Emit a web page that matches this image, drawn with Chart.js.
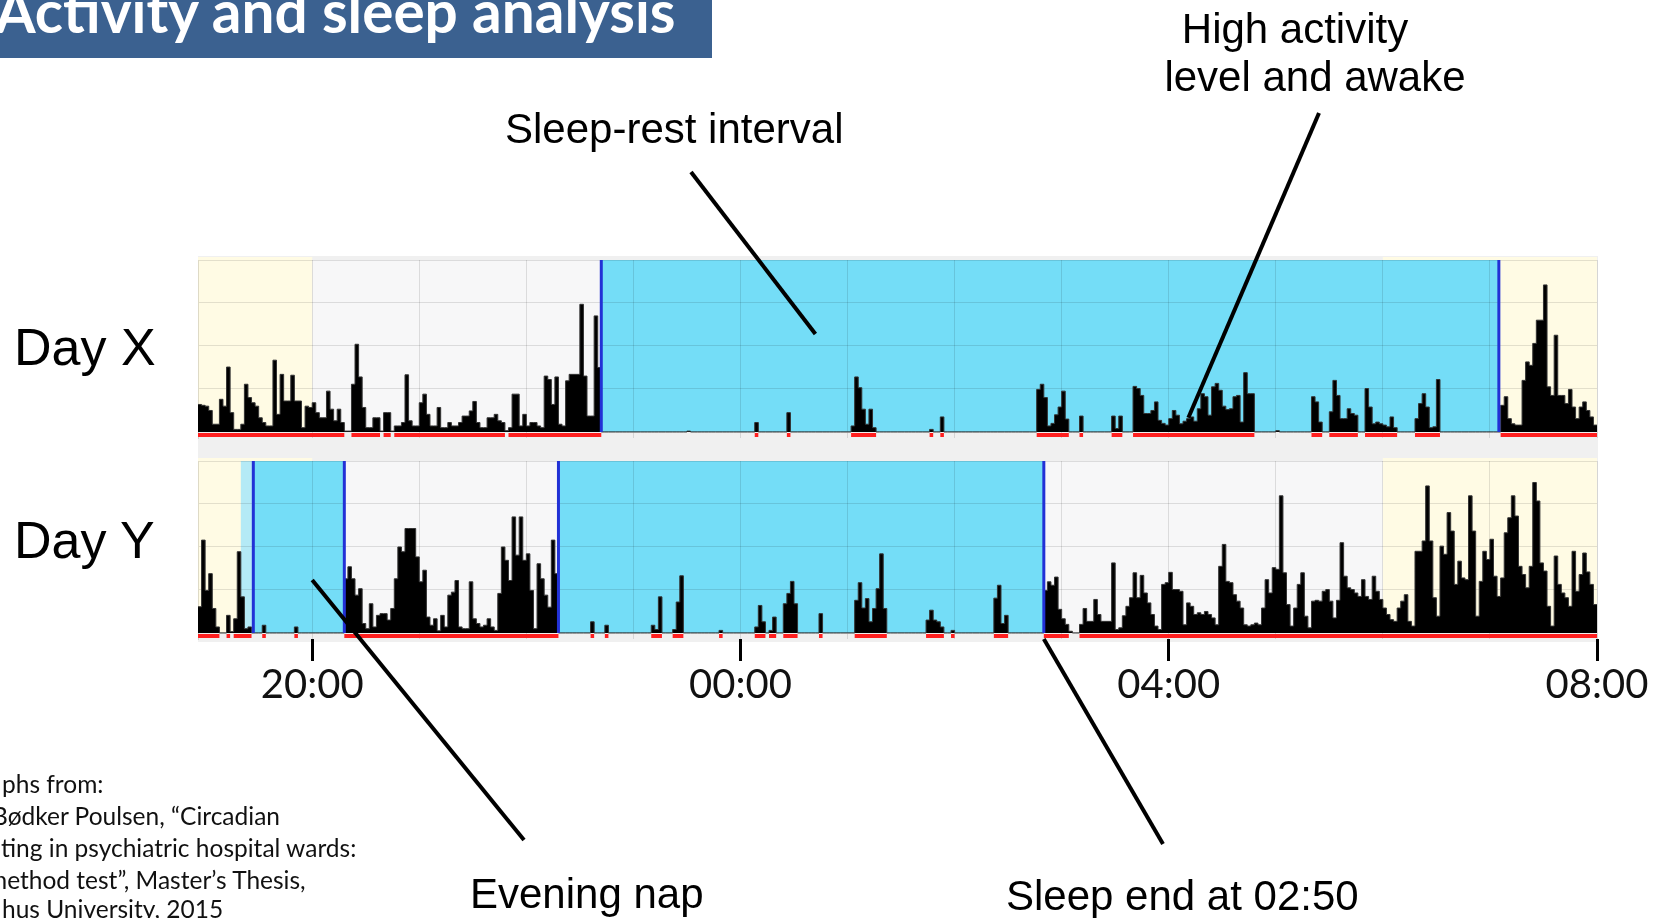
<!DOCTYPE html>
<html>
<head>
<meta charset="utf-8">
<title>Activity and sleep analysis</title>
<script src="https://cdn.jsdelivr.net/npm/chart.js@4.4.1/dist/chart.umd.min.js"></script>
<style>
  html, body { margin: 0; padding: 0; background: #ffffff; }
  body { position: relative; width: 1661px; height: 918px; overflow: hidden; }
  #titleBar { position: absolute; left: 0; top: 0; width: 712px; height: 58px; background: #3b6190; }
  #panelBg { position: absolute; left: 198px; top: 256px; width: 1400px; height: 386px; background: #f0f0f0; }
  .chartBox { position: absolute; }
  #boxX { left: 190px; top: 240px; }
  #boxY { left: 190px; top: 440px; }
  #overlay { position: absolute; left: 0; top: 0; pointer-events: none; }
</style>
</head>
<body>
<div id="titleBar"></div>
<div id="panelBg"></div>
<div class="chartBox" id="boxX"><canvas id="chartX" width="1471" height="200"></canvas></div>
<div class="chartBox" id="boxY"><canvas id="chartY" width="1471" height="270"></canvas></div>
<svg id="overlay" width="1661" height="918" xmlns="http://www.w3.org/2000/svg"></svg>

<script>
// Actigraphy recording: 2-minute epochs starting at 18:56, ending at 08:00 next morning.
const epochStart = '18:56';
const epochMinutes = 2;
const axisEnd = '08:00';

// Activity counts per epoch, one row per hour of recording.
const dayXCounts = [
  64,62,60,50,18,18,76,60,151,45, 6,6,18,111,80,68,60,33,22,14, 14,167,41,134,72,72,132,72,72,10,
  60,57,68,45,33,33,95,53,26,53, 22,2,2,111,204,128,57,10,10,33, 33,2,45,45,2,14,14,22,133,26,
  14,14,68,88,41,14,14,57,10,10, 22,14,14,22,37,37,49,71,22,10, 10,33,33,41,26,22,3,10,88,88,
  14,41,14,22,22,14,10,130,122,64, 128,18,14,119,134,134,134,297,130,37, 37,270,150,0,0,0,0,0,0,0,
  0,0,0,0,0,0,0,0,0,0, 0,0,0,0,0,0,0,2,0,0, 0,0,0,0,0,0,0,0,0,0,
  0,0,0,0,0,0,22,0,0,0, 0,0,0,0,0,45,0,0,0,0, 0,0,0,0,0,0,0,0,0,0,
  0,0,0,14,128,103,53,18,53,10, 0,0,0,0,0,0,0,0,0,0, 0,0,0,0,0,6,0,0,35,0,
  0,0,0,0,0,0,0,0,0,0, 0,0,0,0,0,0,0,0,0,0, 0,0,0,0,0,99,111,80,14,20,
  40,58,95,30,0,0,0,37,0,0, 0,0,0,0,0,0,37,8,37,0, 0,0,106,101,85,43,43,50,70,27,
  20,16,31,50,39,19,25,31,35,25, 54,89,82,39,105,113,97,60,52,54, 82,85,23,138,89,89,0,0,0,0,
  0,0,3,0,0,0,0,0,0,0, 0,0,82,70,23,0,0,47,120,85, 31,31,54,43,39,0,0,101,58,19,
  23,19,16,12,35,10,0,0,0,0, 0,31,66,89,58,10,12,122,0,0, 0,0,0,0,0,0,0,0,0,0,
  0,0,0,0,0,62,82,31,19,16, 16,120,163,155,206,260,260,342,105,85, 225,85,85,66,99,58,31,58,70,50,
  35,16
];

const dayYCounts = [
  61,216,99,138,57,14,0,0,41,3, 33,189,84,10,14,0,0,0,18,0, 0,0,0,0,0,0,0,14,0,0,
  0,0,0,0,0,0,0,0,0,0, 0,126,154,126,88,103,22,10,68,14, 41,45,45,30,57,126,200,189,243,243,
  243,177,119,146,37,18,33,5,41,14, 88,95,122,14,10,10,119,33,22,14, 18,33,14,6,92,200,169,122,270,181,
  270,169,184,99,10,161,126,88,60,216, 138,0,0,0,0,0,0,0,0,0, 26,0,0,0,18,0,0,0,0,0,
  0,0,0,0,0,0,0,18,8,84, 0,0,0,8,72,133,0,0,0,0, 0,0,0,0,0,0,6,0,0,0,
  0,0,0,0,0,0,14,64,26,0, 6,37,0,0,68,92,120,68,0,0, 0,0,0,0,45,0,0,0,0,0,
  0,0,0,0,76,117,58,80,26,57, 103,184,57,0,0,0,0,0,0,0, 0,0,0,0,30,53,30,26,14,0,
  0,6,0,0,0,0,0,0,0,0, 0,0,0,81,111,22,41,0,0,0, 0,0,0,0,0,0,0,99,119,111,
  130,55,33,20,4,0,0,20,57,27, 27,78,43,27,27,27,163,8,12,40, 62,82,140,82,134,93,70,43,16,8,
  113,117,141,101,101,97,19,70,62,43, 47,43,50,43,35,19,155,206,120,117, 89,74,58,19,16,19,23,19,58,124,
  93,152,148,319,140,66,16,58,113,140, 39,12,74,76,74,97,101,74,35,76, 210,132,105,101,93,85,124,85,78,132,
  97,78,58,43,31,27,58,74,89,27, 16,190,190,214,342,214,82,39,202,183, 280,237,113,167,128,124,319,237,39,120,
  190,171,218,132,85,128,233,268,319,272, 155,136,105,155,350,307,163,144,62,16, 179,113,93,82,62,190,97,136,186,142,
  113,66
];

// Epochs at or above this count are flagged as movement (red bar under the trace).
const activityThreshold = 5;

// Scored periods (clock times).
const lightPeriods = [['18:56', '20:00'], ['06:00', '08:00']];
const dayXSleep = [['22:42', '07:05']];
const dayYSleep = [['19:27', '20:18'], ['22:18', '02:50']];
const dayYRestOnset = [['19:20', '19:27']];

// Axis ticks.
const gridHours = ['20:00','21:00','22:00','23:00','00:00','01:00','02:00','03:00','04:00','05:00','06:00','07:00','08:00'];
const tickLabels = ['20:00', '00:00', '04:00', '08:00'];

// Clock time -> hours on a continuous axis (times before noon belong to the next day).
function toHours(hhmm) {
  const [h, m] = hhmm.split(':').map(Number);
  const v = h + m / 60;
  return v < 12 ? v + 24 : v;
}

const t0 = toHours(epochStart);
const tEnd = toHours(axisEnd);
const step = epochMinutes / 60;
const epochTime = i => t0 + i * step;

function tracePoints(counts) {
  const pts = counts.map((v, i) => ({ x: epochTime(i), y: v }));
  pts.push({ x: epochTime(counts.length), y: counts[counts.length - 1] });
  return pts;
}

const flagLevel = -7;
function flagPoints(counts) {
  const pts = [];
  let i = 0;
  while (i < counts.length) {
    if (counts[i] >= activityThreshold) {
      let j = i;
      while (j < counts.length && counts[j] >= activityThreshold) j++;
      pts.push({ x: epochTime(i), y: flagLevel }, { x: epochTime(j), y: flagLevel }, { x: epochTime(j), y: null });
      i = j;
    } else {
      i++;
    }
  }
  return pts;
}

const toRanges = list => list.map(([a, b]) => [toHours(a), toHours(b)]);

// Shaded background periods and sleep markers.
const periodsPlugin = {
  id: 'periods',
  beforeDraw(chart, args, opts) {
    const { ctx, chartArea: { left, right, top }, scales: { x, y } } = chart;
    const base = y.getPixelForValue(0);
    const band = (a, b, color, lift) => {
      const x0 = Math.max(left, x.getPixelForValue(a));
      const x1 = Math.min(right, x.getPixelForValue(b));
      ctx.fillStyle = color;
      ctx.fillRect(x0, top - lift, x1 - x0, base - top + lift);
    };
    ctx.save();
    band(t0, tEnd, '#f7f7f8', 0);
    (opts.light || []).forEach(([a, b]) => band(a, b, '#fffbe4', 3));
    (opts.rest || []).forEach(([a, b]) => band(a, b, '#b4eaf6', 0));
    (opts.sleep || []).forEach(([a, b]) => band(a, b, '#74ddf7', 0));
    ctx.restore();
  },
  afterDatasetsDraw(chart, args, opts) {
    const { ctx, chartArea: { top }, scales: { x, y } } = chart;
    const base = y.getPixelForValue(0);
    ctx.save();
    ctx.strokeStyle = '#2231d6';
    ctx.lineWidth = 3;
    (opts.sleep || []).forEach(([a, b]) => {
      [a, b].forEach(t => {
        const px = x.getPixelForValue(t);
        ctx.beginPath();
        ctx.moveTo(px, top);
        ctx.lineTo(px, base);
        ctx.stroke();
      });
    });
    ctx.restore();
  }
};

const gridColor = 'rgba(0,0,0,0.11)';
const gridValues = gridHours.map(toHours);
const labelValues = tickLabels.map(toHours);

function makeChart(canvasId, counts, periods, showAxis) {
  return new Chart(document.getElementById(canvasId), {
    type: 'line',
    data: {
      datasets: [
        {
          data: tracePoints(counts),
          stepped: true,
          fill: 'origin',
          backgroundColor: '#000000',
          borderColor: '#333333',
          borderWidth: 1,
          pointRadius: 0,
          order: 2
        },
        {
          data: flagPoints(counts),
          borderColor: '#ff1f1f',
          borderWidth: 4,
          borderCapStyle: 'butt',
          pointRadius: 0,
          fill: false,
          spanGaps: false,
          order: 1
        }
      ]
    },
    options: {
      responsive: false,
      animation: false,
      events: [],
      layout: { padding: showAxis ? { left: 8, right: 64, top: 21, bottom: 9 } : { left: 8, right: 64, top: 20, bottom: 2 } },
      plugins: {
        legend: { display: false },
        tooltip: { enabled: false },
        periods: periods
      },
      scales: {
        x: {
          type: 'linear',
          min: t0,
          max: tEnd,
          afterBuildTicks: s => { s.ticks = gridValues.map(v => ({ value: v })); },
          afterFit: s => { s.height = showAxis ? 62 : 0; },
          border: { display: false },
          grid: {
            color: gridColor,
            lineWidth: 1,
            drawTicks: showAxis,
            tickLength: 22,
            tickWidth: 3,
            tickColor: c => (c.tick && labelValues.includes(c.tick.value)) ? '#000000' : 'rgba(0,0,0,0)'
          },
          ticks: {
            display: showAxis,
            autoSkip: false,
            maxRotation: 0,
            minRotation: 0,
            padding: 0,
            color: '#111111',
            font: { family: 'Lato', size: 40 },
            callback: v => {
              const k = labelValues.indexOf(v);
              return k >= 0 ? tickLabels[k] : '';
            }
          }
        },
        y: {
          type: 'linear',
          min: -14,
          max: 400,
          afterBuildTicks: s => { s.ticks = [0, 100, 200, 300, 400].map(v => ({ value: v })); },
          afterFit: s => { s.width = 0; },
          border: { display: true, color: 'rgba(0,0,0,0.13)', width: 1 },
          grid: {
            color: c => c.tick && c.tick.value === 0 ? 'rgba(0,0,0,0.2)' : gridColor,
            drawTicks: false
          },
          ticks: { display: false }
        }
      }
    },
    plugins: [periodsPlugin]
  });
}

const chartX = makeChart('chartX', dayXCounts, {
  light: toRanges(lightPeriods),
  sleep: toRanges(dayXSleep)
}, false);

const chartY = makeChart('chartY', dayYCounts, {
  light: toRanges(lightPeriods),
  rest: toRanges(dayYRestOnset),
  sleep: toRanges(dayYSleep)
}, true);

// Annotation layer: headings, callouts and source note.
const svgNS = 'http://www.w3.org/2000/svg';
const svg = document.getElementById('overlay');
const boxes = { X: { chart: chartX, left: 190, top: 240 }, Y: { chart: chartY, left: 190, top: 440 } };

function at(day, time, value) {
  const b = boxes[day];
  return [b.left + b.chart.scales.x.getPixelForValue(toHours(time)), b.top + b.chart.scales.y.getPixelForValue(value)];
}

function line(p, q) {
  const el = document.createElementNS(svgNS, 'line');
  el.setAttribute('x1', p[0]); el.setAttribute('y1', p[1]);
  el.setAttribute('x2', q[0]); el.setAttribute('y2', q[1]);
  el.setAttribute('stroke', '#000');
  el.setAttribute('stroke-width', '4');
  svg.appendChild(el);
}

function text(str, x, y, opts) {
  const el = document.createElementNS(svgNS, 'text');
  el.setAttribute('x', x); el.setAttribute('y', y);
  el.setAttribute('font-family', opts.family || 'Liberation Sans, Arial, sans-serif');
  el.setAttribute('font-size', opts.size);
  el.setAttribute('fill', opts.color || '#000');
  if (opts.weight) el.setAttribute('font-weight', opts.weight);
  if (opts.anchor) el.setAttribute('text-anchor', opts.anchor);
  el.textContent = str;
  svg.appendChild(el);
}

// Title
text('Activity and sleep analysis', -5, 33, { family: 'Lato', size: 58.5, weight: 700, color: '#ffffff' });

// Row labels
text('Day X', 14, 365, { size: 52 });
text('Day Y', 14, 558, { size: 52 });

// Callouts
text('Sleep-rest interval', 505, 143, { size: 42 });
line([691, 172], at('X', '00:42', 228));

text('High activity', 1295, 43, { size: 42, anchor: 'middle' });
text('level and awake', 1315, 91, { size: 42, anchor: 'middle' });
line([1319, 113], at('X', '04:11', 33));

text('Evening nap', 470, 908, { size: 42 });
line(at('Y', '20:00', 123), [524, 840]);

text('Sleep end at 02:50', 1006, 910, { size: 42 });
line(at('Y', '02:50', -14), [1163, 844]);

// Source note
const note = [
  ['phs from:', 2, 793],
  ['Bødker Poulsen, “Circadian', -8, 825],
  ['ting in psychiatric hospital wards:', 1, 857],
  ['method test”, Master’s Thesis,', -13, 889],
  ['hus University, 2015', 2, 918]
];
note.forEach(([s, x, y]) => text(s, x, y, { family: 'Lato', size: 24.5, color: '#111' }));
</script>
</body>
</html>
